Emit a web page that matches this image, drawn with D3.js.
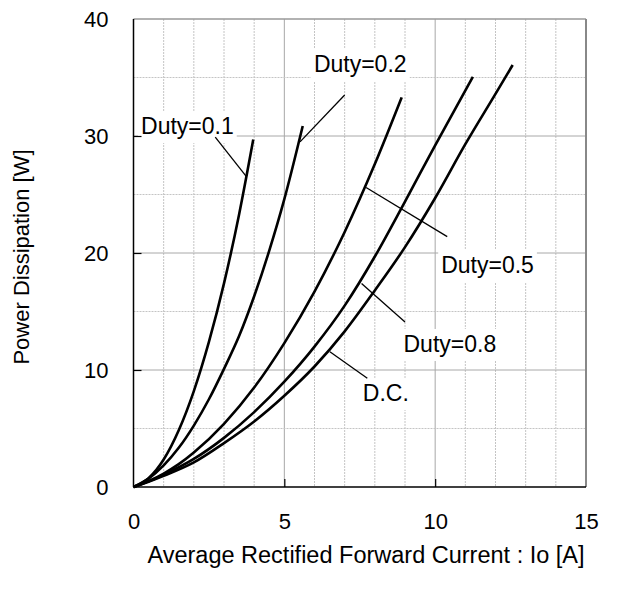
<!DOCTYPE html>
<html>
<head>
<meta charset="utf-8">
<script src="https://cdn.jsdelivr.net/npm/d3@7"></script>
<style>
  html, body { margin: 0; padding: 0; background: #fff; }
  svg { display: block; }
  text { font-family: "Liberation Sans", Arial, sans-serif; fill: #000; }
</style>
</head>
<body>
<div id="chart"></div>
<script>
// ---- data ----
const xTicks = [0, 5, 10, 15];
const yTicks = [0, 10, 20, 30, 40];
const xMinor = [1,2,3,4,5,6,7,8,9,10,11,12,13,14];
const yMinor = [5,10,15,20,25,30,35];
const seriesNames = ["Duty=0.1", "Duty=0.2", "Duty=0.5", "Duty=0.8", "D.C."];
const duty01 = [[0,0],[0.5,0.75],[1,2.35],[1.5,4.85],[2,8.2],[2.5,12.4],[3,17.4],[3.5,23.3],[3.97,29.7]];
const duty02 = [[0,0],[0.5,0.72],[1,1.85],[1.5,3.35],[2,5.25],[2.5,7.5],[3,10.1],[3.5,12.9],[4,16.3],[4.5,20.2],[5,24.6],[5.61,30.85]];
const duty05 = [[0,0],[0.5,0.5],[1,1.15],[1.5,1.95],[2,2.95],[3,5.4],[4,8.5],[5,12.3],[6,16.7],[7,21.8],[8,27.6],[8.89,33.3]];
const duty08 = [[0,0],[0.5,0.48],[1,1.05],[2,2.4],[3,4.2],[4,6.4],[5,9.0],[6,12.0],[7,15.5],[8,19.7],[9,24.4],[10,29.2],[11.25,35.05]];
const dutyDC = [[0,0],[0.5,0.45],[1,0.95],[2,2.1],[3,3.75],[4,5.6],[5,7.8],[6,10.3],[7,13.3],[8,16.8],[9,20.5],[10,24.7],[11,29.3],[12,33.6],[12.57,36.07]];
const seriesData = [duty01, duty02, duty05, duty08, dutyDC];
// label anchor (left x, baseline y) and leader line [from, to], in data units
const labelPos = [[0.25,30.17],[5.98,35.47],[10.2,18.29],[8.95,11.54],[7.6,7.35]];
const leaders = [
  [[2.71,29.9],[3.75,26.5]],
  [[7.0,33.5],[5.52,29.5]],
  [[7.71,25.6],[10.4,21.4]],
  [[7.56,17.4],[9.0,14.1]],
  [[6.51,11.56],[7.75,9.29]]
];

// ---- layout ----
const W = 628, H = 602;
const m = {left: 133.5, right: 628 - 586, top: 19, bottom: 602 - 487};
const iw = W - m.left - m.right, ih = H - m.top - m.bottom;

const svg = d3.select("#chart").append("svg").attr("width", W).attr("height", H);
const g = svg.append("g").attr("transform", `translate(${m.left},${m.top})`);

const x = d3.scaleLinear().domain([0, 15]).range([0, iw]);
const y = d3.scaleLinear().domain([0, 40]).range([ih, 0]);

// grid
const grid = g.append("g");
grid.selectAll("line.vx").data(xMinor).join("line")
  .attr("x1", d => x(d)).attr("x2", d => x(d)).attr("y1", 0).attr("y2", ih)
  .attr("stroke", d => d % 5 === 0 ? "#a8a8a8" : "#c4c4c4")
  .attr("stroke-width", 1)
  .attr("stroke-dasharray", d => d % 5 === 0 ? null : "2,1");
grid.selectAll("line.hy").data(yMinor).join("line")
  .attr("y1", d => y(d)).attr("y2", d => y(d)).attr("x1", 0).attr("x2", iw)
  .attr("stroke", d => d % 10 === 0 ? "#a8a8a8" : "#c4c4c4")
  .attr("stroke-width", 1)
  .attr("stroke-dasharray", d => d % 10 === 0 ? null : "2,1");

// label backgrounds + labels
const fs = 22, lfs = 23;
const labG = g.append("g");
const labels = labG.selectAll("text").data(seriesNames).join("text")
  .attr("x", (d, i) => x(labelPos[i][0]))
  .attr("y", (d, i) => y(labelPos[i][1]))
  .attr("font-size", lfs)
  .text(d => d);
labels.each(function() {
  const b = this.getBBox();
  labG.insert("rect", "text")
    .attr("x", b.x - 3).attr("y", b.y - 2)
    .attr("width", b.width + 6).attr("height", b.height + 6)
    .attr("fill", "#fff");
});

// frame
g.append("line").attr("x1", 0).attr("x2", iw).attr("y1", 0).attr("y2", 0).attr("stroke", "#999").attr("stroke-width", 1.5);
g.append("line").attr("x1", iw).attr("x2", iw).attr("y1", 0).attr("y2", ih).attr("stroke", "#888").attr("stroke-width", 2);
g.append("line").attr("x1", 0).attr("x2", 0).attr("y1", 0).attr("y2", ih).attr("stroke", "#000").attr("stroke-width", 1.5);
g.append("line").attr("x1", 0).attr("x2", iw).attr("y1", ih).attr("y2", ih).attr("stroke", "#000").attr("stroke-width", 1.5);

// axes (inward ticks)
const xAxis = d3.axisBottom(x).tickValues(xTicks).tickSize(-8).tickPadding(26).tickFormat(d3.format("d"));
const yAxis = d3.axisLeft(y).tickValues(yTicks).tickSize(-8).tickPadding(25).tickFormat(d3.format("d"));
const gx = g.append("g").attr("transform", `translate(0,${ih})`).call(xAxis);
const gy = g.append("g").call(yAxis);
[gx, gy].forEach(a => {
  a.select(".domain").remove();
  a.selectAll(".tick line").attr("stroke", "#000").attr("stroke-width", 1.2);
  a.selectAll(".tick text").attr("font-size", fs).attr("font-family", "Liberation Sans, Arial, sans-serif").attr("fill", "#000");
});
gx.selectAll(".tick").filter(d => d === 0 || d === 15).select("line").remove();
gy.selectAll(".tick").filter(d => d === 0 || d === 40).select("line").remove();

// leader lines
g.append("g").selectAll("line").data(leaders).join("line")
  .attr("x1", d => x(d[0][0])).attr("y1", d => y(d[0][1]))
  .attr("x2", d => x(d[1][0])).attr("y2", d => y(d[1][1]))
  .attr("stroke", "#000").attr("stroke-width", 1.3);

// curves
const line = d3.line().x(d => x(d[0])).y(d => y(d[1])).curve(d3.curveMonotoneX);
g.append("g").selectAll("path").data(seriesData).join("path")
  .attr("d", line).attr("fill", "none").attr("stroke", "#000")
  .attr("stroke-width", 2.6).attr("stroke-linejoin", "round");

// axis titles
svg.append("text").attr("x", 366).attr("y", 563).attr("text-anchor", "middle")
  .attr("font-size", 23.5).text("Average Rectified Forward Current : Io [A]");
svg.append("text").attr("transform", "translate(29,257) rotate(-90)").attr("text-anchor", "middle")
  .attr("font-size", fs).text("Power Dissipation [W]");
</script>
</body>
</html>
